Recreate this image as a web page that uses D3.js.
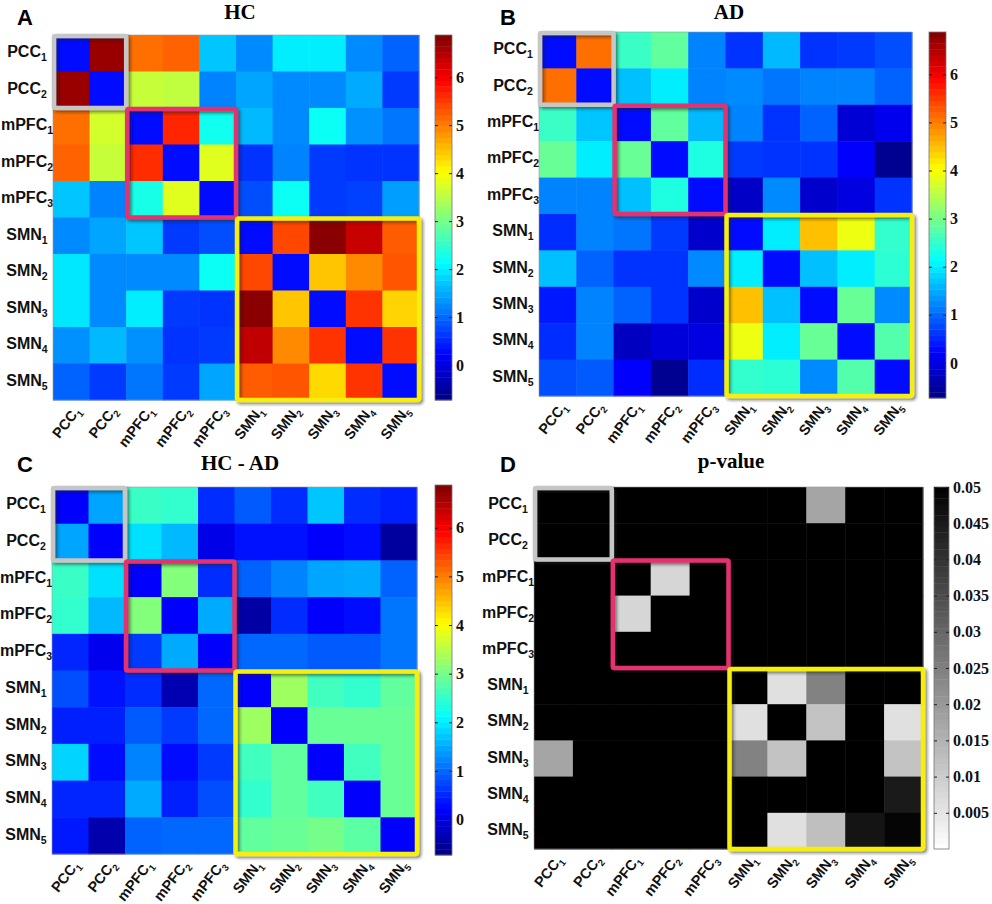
<!DOCTYPE html>
<html>
<head>
<meta charset="utf-8">
<script src="https://cdnjs.cloudflare.com/ajax/libs/d3/7.8.5/d3.min.js"></script>
<style>
  body { margin: 0; background: #fff; }
  svg { display: block; }
</style>
</head>
<body>
<script>
// region labels (name + subscript)
const labelNames = ["PCC", "PCC", "mPFC", "mPFC", "mPFC", "SMN", "SMN", "SMN", "SMN", "SMN"];
const labelSubs = ["1", "2", "1", "2", "3", "1", "2", "3", "4", "5"];

// network blocks: [first index, size]
const networkBlocks = [[0, 2], [2, 3], [5, 5]];

const hcValues = [
  [0.3, 6.7, 5.1, 5.2, 1.7, 1.25, 2.0, 2.0, 1.25, 0.95],
  [6.7, 0.3, 3.6, 3.55, 1.2, 1.45, 1.25, 1.25, 1.5, 0.65],
  [5.1, 3.7, 0.3, 5.65, 2.25, 1.6, 1.25, 2.2, 1.3, 1.1],
  [5.2, 3.6, 5.6, 0.3, 3.8, 0.6, 1.2, 0.65, 0.6, 0.6],
  [1.7, 1.2, 2.3, 3.8, 0.3, 0.8, 2.2, 0.65, 0.7, 1.4],
  [1.25, 1.45, 1.7, 0.65, 0.8, 0.3, 5.4, 6.8, 6.35, 5.25],
  [1.95, 1.25, 1.25, 1.25, 2.2, 5.4, 0.3, 4.45, 4.9, 5.3],
  [1.95, 1.25, 2.0, 0.65, 0.6, 6.8, 4.45, 0.3, 5.55, 4.35],
  [1.3, 1.6, 1.3, 0.6, 0.65, 6.4, 4.9, 5.55, 0.3, 5.55],
  [0.95, 0.65, 1.1, 0.65, 1.45, 5.25, 5.3, 4.3, 5.55, 0.3]
];

const adValues = [
  [0.3, 5.1, 2.55, 2.85, 1.2, 0.6, 1.6, 0.6, 0.65, 0.8],
  [5.1, 0.3, 1.65, 2.0, 1.2, 1.25, 1.1, 1.2, 1.2, 0.95],
  [2.55, 1.7, 0.3, 2.85, 1.6, 1.2, 0.6, 0.95, -0.1, 0.1],
  [2.9, 2.0, 2.9, 0.3, 2.35, 0.65, 0.6, 0.6, 0.2, -0.6],
  [1.2, 1.2, 1.65, 2.35, 0.3, -0.2, 1.25, -0.15, 0.0, 0.6],
  [0.55, 1.2, 1.1, 0.65, -0.15, 0.3, 2.0, 4.5, 3.9, 2.5],
  [1.65, 0.95, 0.6, 0.6, 1.25, 2.0, 0.3, 1.65, 2.0, 2.45],
  [0.4, 1.2, 0.95, 0.6, -0.15, 4.5, 1.65, 0.3, 2.9, 1.25],
  [0.55, 1.2, -0.25, -0.05, 0.0, 3.9, 2.0, 2.9, 0.3, 2.75],
  [0.8, 0.9, 0.2, -0.6, 0.55, 2.5, 2.45, 1.25, 2.75, 0.3]
];

const diffValues = [
  [0.2, 1.45, 2.55, 2.5, 0.55, 0.9, 0.55, 1.7, 0.55, 0.45],
  [1.45, 0.2, 1.9, 1.6, 0.05, 0.35, 0.35, 0.2, 0.3, -0.5],
  [2.55, 1.9, 0.2, 3.1, 0.55, 0.95, 1.2, 1.45, 1.5, 0.95],
  [2.5, 1.6, 3.1, 0.2, 1.5, -0.45, 0.55, 0.2, 0.3, 1.1],
  [0.5, 0.1, 0.65, 1.5, 0.2, 1.0, 1.0, 0.9, 0.9, 1.1],
  [0.8, 0.35, 0.55, -0.35, 1.0, 0.2, 3.3, 2.6, 2.5, 2.85],
  [0.45, 0.45, 0.9, 0.65, 1.0, 3.3, 0.2, 2.9, 2.9, 2.9],
  [1.8, 0.3, 1.2, 0.3, 0.65, 2.6, 2.85, 0.2, 2.6, 2.9],
  [0.5, 0.5, 1.5, 0.45, 0.8, 2.5, 2.85, 2.6, 0.2, 2.9],
  [0.4, -0.4, 0.95, 1.0, 1.0, 2.85, 2.9, 3.0, 2.8, 0.2]
];

const pValues = [
  [0.05, 0.05, 0.05, 0.05, 0.05, 0.05, 0.05, 0.0176, 0.05, 0.05],
  [0.05, 0.05, 0.05, 0.05, 0.05, 0.05, 0.05, 0.05, 0.05, 0.05],
  [0.05, 0.05, 0.05, 0.008, 0.05, 0.05, 0.05, 0.05, 0.05, 0.05],
  [0.05, 0.05, 0.008, 0.05, 0.05, 0.05, 0.05, 0.05, 0.05, 0.05],
  [0.05, 0.05, 0.05, 0.05, 0.05, 0.05, 0.05, 0.05, 0.05, 0.05],
  [0.05, 0.05, 0.05, 0.05, 0.05, 0.05, 0.006, 0.0245, 0.05, 0.05],
  [0.05, 0.05, 0.05, 0.05, 0.05, 0.006, 0.05, 0.0118, 0.05, 0.006],
  [0.0176, 0.05, 0.05, 0.05, 0.05, 0.0245, 0.0118, 0.05, 0.05, 0.0118],
  [0.05, 0.05, 0.05, 0.05, 0.05, 0.05, 0.05, 0.05, 0.05, 0.045],
  [0.05, 0.05, 0.05, 0.05, 0.05, 0.05, 0.006, 0.0125, 0.046, 0.049]
];

const jetDomain = [-0.73, 6.88];
const jetTicks = [0, 1, 2, 3, 4, 5, 6];
const pDomain = [0, 0.05];
const pTicks = [0.005, 0.01, 0.015, 0.02, 0.025, 0.03, 0.035, 0.04, 0.045, 0.05];

const width = 992, height = 904;
const boxColors = ["#c6c6c6", "#e2306f", "#f6ee0c"];

// MATLAB-like jet colormap
function jet(t) {
  const c = v => Math.round(255 * Math.max(0, Math.min(1, v)));
  return `rgb(${c(1.5 - Math.abs(4 * t - 3))},${c(1.5 - Math.abs(4 * t - 2))},${c(1.5 - Math.abs(4 * t - 1))})`;
}
const jetColor = d3.scaleSequential(jet).domain(jetDomain);
const grayColor = d3.scaleLinear().domain(pDomain).range(["#ffffff", "#000000"]).clamp(true);

const panels = [
  { letter: "A", title: "HC", values: hcValues, color: jetColor, ticks: jetTicks, fmt: d3.format("d"),
    hx: 53, hy: 35, hw: 366, hh: 365, cx: 435, cy: 35, cw: 17, ch: 365,
    lx: 25, ly: 25, tx: 240, ty: 19 },
  { letter: "B", title: "AD", values: adValues, color: jetColor, ticks: jetTicks, fmt: d3.format("d"),
    hx: 539, hy: 32, hw: 373, hh: 364, cx: 929, cy: 32, cw: 17, ch: 366,
    lx: 508, ly: 25, tx: 729, ty: 19 },
  { letter: "C", title: "HC - AD", values: diffValues, color: jetColor, ticks: jetTicks, fmt: d3.format("d"),
    hx: 52, hy: 487, hw: 365, hh: 367, cx: 435, cy: 485, cw: 17, ch: 370,
    lx: 25, ly: 472, tx: 240, ty: 470 },
  { letter: "D", title: "p-value", values: pValues, color: grayColor, ticks: pTicks, fmt: d => String(+d.toFixed(3)),
    hx: 534, hy: 487, hw: 389, hh: 362, cx: 934, cy: 487, cw: 15, ch: 362,
    lx: 508, ly: 472, tx: 731, ty: 468 }
];

const svg = d3.select("body").append("svg")
  .attr("width", width)
  .attr("height", height);

const defs = svg.append("defs");
defs.append("filter")
  .attr("id", "shadow")
  .attr("x", "-10%").attr("y", "-10%").attr("width", "120%").attr("height", "120%")
  .append("feDropShadow")
  .attr("dx", 2).attr("dy", 2)
  .attr("stdDeviation", 1.5)
  .attr("flood-color", "#222")
  .attr("flood-opacity", 0.55);

function addLabel(sel, i, subSize) {
  sel.append("tspan").text(labelNames[i]);
  sel.append("tspan").attr("font-size", subSize).attr("dy", 4).text(labelSubs[i]);
}

panels.forEach(p => {
  const g = svg.append("g");
  const idx = d3.range(labelNames.length);
  const x = d3.scaleBand().domain(idx).range([p.hx, p.hx + p.hw]);
  const y = d3.scaleBand().domain(idx).range([p.hy, p.hy + p.hh]);

  // cells
  const cells = p.values.flatMap((row, r) => row.map((v, c) => ({ r, c, v })));
  g.append("g")
    .selectAll("rect")
    .data(cells)
    .enter().append("rect")
    .attr("x", d => x(d.c))
    .attr("y", d => y(d.r))
    .attr("width", x.bandwidth() + 0.5)
    .attr("height", y.bandwidth() + 0.5)
    .attr("fill", d => p.color(d.v));

  g.append("rect")
    .attr("x", p.hx).attr("y", p.hy)
    .attr("width", p.hw).attr("height", p.hh)
    .attr("fill", "none")
    .attr("stroke", "#999")
    .attr("stroke-width", 0.6);

  // network boxes
  networkBlocks.forEach(([s, n], k) => {
    g.append("rect")
      .attr("x", x(s) + 1)
      .attr("y", y(s) + 1)
      .attr("width", x.bandwidth() * n - 1)
      .attr("height", y.bandwidth() * n - 1)
      .attr("rx", 1.5)
      .attr("fill", "none")
      .attr("stroke", boxColors[k])
      .attr("stroke-width", 4.5)
      .attr("filter", "url(#shadow)");
  });

  // row labels
  idx.forEach(i => {
    g.append("text")
      .attr("x", p.hx - 26)
      .attr("y", y(i) + y.bandwidth() / 2 + 4)
      .attr("text-anchor", "middle")
      .attr("font-family", "Liberation Sans, Arial, sans-serif")
      .attr("font-weight", "bold")
      .attr("font-size", 16)
      .attr("fill", "#111")
      .call(addLabel, i, 10.5);
  });

  // column labels
  idx.forEach(i => {
    const cx = x(i) + x.bandwidth() / 2 + 10;
    const cy = p.hy + p.hh + 11;
    g.append("text")
      .attr("transform", `translate(${cx},${cy}) rotate(-52)`)
      .attr("text-anchor", "end")
      .attr("font-family", "Liberation Sans, Arial, sans-serif")
      .attr("font-weight", "bold")
      .attr("font-size", 14.5)
      .attr("fill", "#111")
      .call(addLabel, i, 9.5);
  });

  // colorbar
  const cbScale = d3.scaleLinear().domain(p.color.domain()).range([p.cy + p.ch, p.cy]);
  const steps = 64;
  const [d0, d1] = p.color.domain();
  const stepVals = d3.range(steps).map(k => d0 + (k + 0.5) * (d1 - d0) / steps);
  const stepH = p.ch / steps;
  g.append("g")
    .selectAll("rect")
    .data(stepVals)
    .enter().append("rect")
    .attr("x", p.cx)
    .attr("y", d => cbScale(d) - stepH / 2)
    .attr("width", p.cw)
    .attr("height", stepH + 0.4)
    .attr("fill", d => p.color(d));
  g.append("rect")
    .attr("x", p.cx).attr("y", p.cy)
    .attr("width", p.cw).attr("height", p.ch)
    .attr("fill", "none")
    .attr("stroke", "#777")
    .attr("stroke-width", 0.8);

  const axis = d3.axisRight(cbScale)
    .tickValues(p.ticks)
    .tickFormat(p.fmt)
    .tickSize(-3)
    .tickPadding(4);
  const ax = g.append("g")
    .attr("transform", `translate(${p.cx + p.cw},0)`)
    .call(axis);
  ax.select(".domain").remove();
  ax.selectAll(".tick line").attr("stroke", "#222");
  ax.selectAll(".tick").append("line")
    .attr("x1", -p.cw).attr("x2", -p.cw + 3)
    .attr("stroke", "#222");
  ax.selectAll("text")
    .attr("font-family", "Liberation Serif, Times New Roman, serif")
    .attr("font-weight", "bold")
    .attr("font-size", 16)
    .attr("fill", "#111");

  // title and panel letter
  g.append("text")
    .attr("x", p.tx).attr("y", p.ty)
    .attr("text-anchor", "middle")
    .attr("font-family", "Liberation Serif, Times New Roman, serif")
    .attr("font-weight", "bold")
    .attr("font-size", 21)
    .text(p.title);
  g.append("text")
    .attr("x", p.lx).attr("y", p.ly)
    .attr("text-anchor", "middle")
    .attr("font-family", "Liberation Sans, Arial, sans-serif")
    .attr("font-weight", "bold")
    .attr("font-size", 22)
    .text(p.letter);
});
</script>
</body>
</html>
